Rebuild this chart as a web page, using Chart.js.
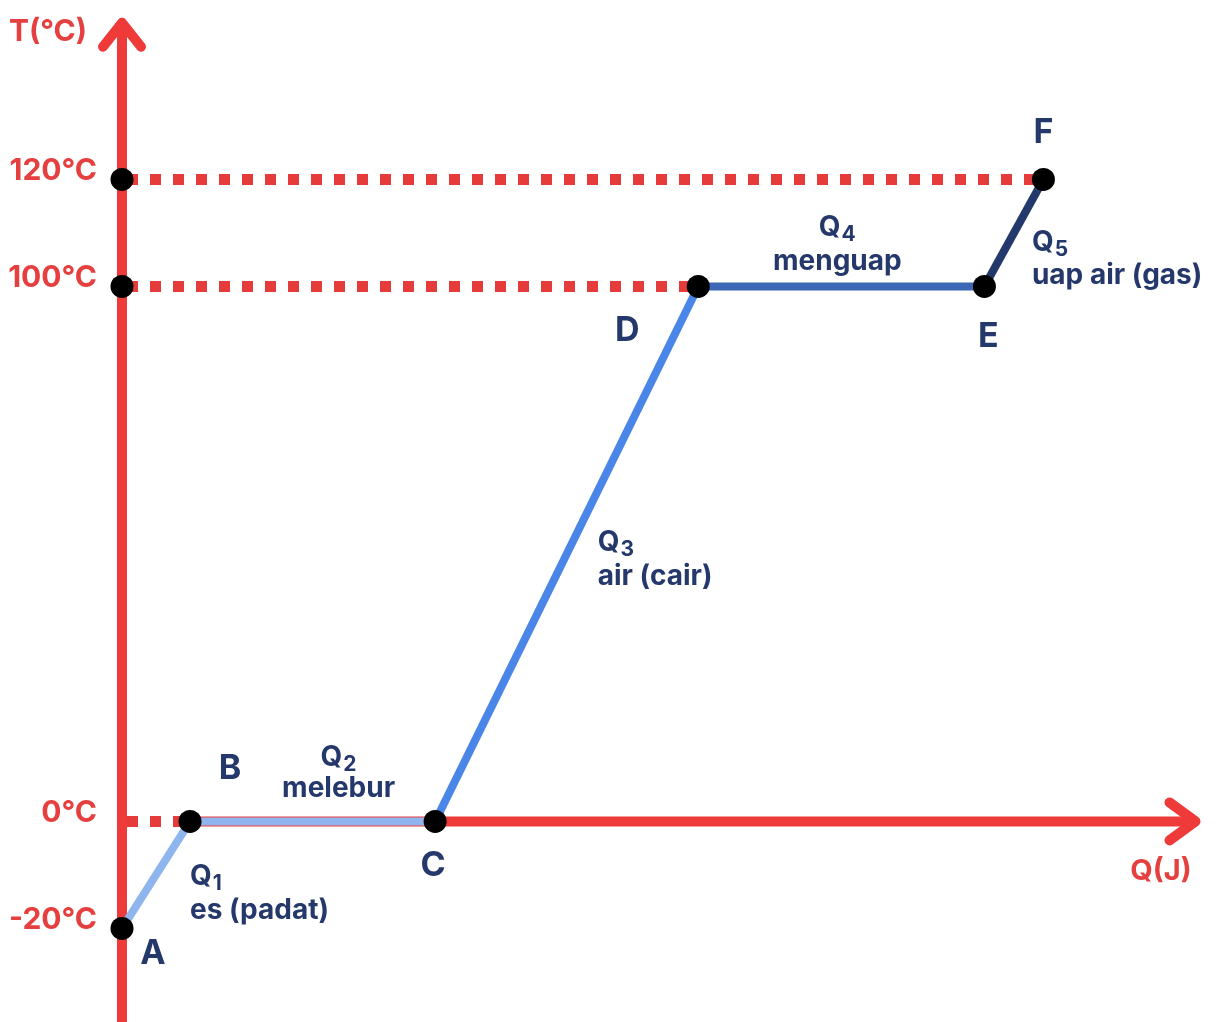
<!DOCTYPE html>
<html><head><meta charset="utf-8">
<script src="https://cdn.jsdelivr.net/npm/chart.js@4/dist/chart.umd.min.js"></script>
<style>html,body{margin:0;padding:0;background:#fff;} #wrap{width:1220px;height:1022px;}</style>
</head><body><div id="wrap"><canvas id="c" width="1220" height="1022"></canvas></div>
<script>
// ---- data ----
const pointNames = ['A','B','C','D','E','F'];
const heatQ = [0, 6.8, 31.3, 57.6, 86.2, 92.1];     // Q (J) – no numeric scale shown, relative amounts
const tempT = [-20, 0, 0, 100, 100, 120];          // T (°C)
const yTicks = [-20, 0, 100, 120];
const segNames = ['Q1','Q2','Q3','Q4','Q5'];
const segLabels = ['es (padat)','melebur','air (cair)','menguap','uap air (gas)'];
const guideTemps = [0, 100, 120];
const guidePointIdx = [1, 3, 5];

// ---- styles ----
const segColors = ['#8fb5ef','#8fb5ef','#4a86e8','#3c66b6','#23396b'];
const RED = '#ef3a3a', DOTRED = '#e53b3b', NAVY = '#25386b', TICKRED = '#e5403f';
const FONT = 'Inter, "Open Sans", sans-serif';
const letterOff = [[31,25],[40,-53],[-2,44],[-71,44],[4,50],[0,-47]];
// [dx, dy line1, dy line2, align]
const segOff = [[34,2,36,'left'],[26,-64,-33,'center'],[31,-11,23,'left'],[-4,-59,-25,'center'],[18,10,43,'left']];

const guideSets = guideTemps.map((t,i)=>({
  data:[{x:0,y:t},{x:heatQ[guidePointIdx[i]],y:t}],
  borderColor: DOTRED, borderWidth: 11, borderDash:[11,12], borderDashOffset: 18,
  borderCapStyle:'butt',
  pointRadius: t===0 ? [0,0] : [11.5,0], pointBackgroundColor:'#000', pointBorderWidth:0,
  showLine:true, clip:false, order: 2
}));

const mainSet = {
  data: heatQ.map((q,i)=>({x:q,y:tempT[i]})),
  borderWidth: 8, showLine:true, clip:false, order:0,
  segment:{ borderColor: ctx => segColors[ctx.p0DataIndex] },
  borderColor: segColors[0],
  pointRadius: 11.5, pointBackgroundColor:'#000', pointBorderWidth:0, pointHoverRadius:11.5
};

function drawQ(ctx, name, x, y, align){
  const main = name[0], sub = name.slice(1);
  ctx.font = 'bold 28px ' + FONT;
  const w1 = ctx.measureText(main).width;
  ctx.font = 'bold 21px ' + FONT;
  const w2 = ctx.measureText(sub).width;
  let x0 = align==='center' ? x - (w1+w2+1)/2 : x;
  ctx.textAlign='left'; ctx.textBaseline='middle';
  ctx.font = 'bold 28px ' + FONT; ctx.fillText(main, x0, y);
  ctx.font = 'bold 21px ' + FONT; ctx.fillText(sub, x0+w1+1, y+7);
}

const axesPlugin = {
  id:'axesPlugin',
  beforeDatasetsDraw(chart){
    const {ctx, scales:{x,y}} = chart;
    const x0 = x.getPixelForValue(0), y0 = y.getPixelForValue(0);
    const yTop = y.getPixelForValue(149.3);
    const xTip = x.getPixelForValue(107.3);
    ctx.save();
    ctx.strokeStyle = RED; ctx.lineWidth = 10; ctx.lineCap='round'; ctx.lineJoin='round';
    // y axis
    ctx.beginPath(); ctx.moveTo(x0, chart.height+10); ctx.lineTo(x0, yTop+3); ctx.stroke();
    ctx.beginPath(); ctx.moveTo(x0-19, yTop+24); ctx.lineTo(x0, yTop); ctx.lineTo(x0+19, yTop+24); ctx.stroke();
    // x axis
    ctx.beginPath(); ctx.lineCap='butt'; ctx.moveTo(x.getPixelForValue(heatQ[1]), y0); ctx.lineTo(xTip-3, y0); ctx.stroke();
    ctx.lineCap='round';
    ctx.beginPath(); ctx.moveTo(xTip-26, y0-19); ctx.lineTo(xTip, y0); ctx.lineTo(xTip-26, y0+19); ctx.stroke();
    // axis titles
    ctx.fillStyle = TICKRED; ctx.font = 'bold 30px ' + FONT; ctx.textBaseline='middle';
    ctx.textAlign='left'; ctx.fillText('T(°C)', 9, 32);
    ctx.font = 'bold 29px ' + FONT;
    ctx.textAlign='center'; ctx.fillText('Q(J)', 1161, y0+50);
    ctx.restore();
  },
  afterDatasetsDraw(chart){
    const {ctx, scales:{x,y}} = chart;
    ctx.save();
    ctx.fillStyle = NAVY;
    // point letters
    ctx.font = 'bold 34px ' + FONT; ctx.textAlign='center'; ctx.textBaseline='middle';
    pointNames.forEach((n,i)=>{
      const px = x.getPixelForValue(heatQ[i]), py = y.getPixelForValue(tempT[i]);
      ctx.fillText(n, px+letterOff[i][0], py+letterOff[i][1]);
    });
    // segment labels
    segNames.forEach((n,i)=>{
      const mx = (x.getPixelForValue(heatQ[i])+x.getPixelForValue(heatQ[i+1]))/2;
      const my = (y.getPixelForValue(tempT[i])+y.getPixelForValue(tempT[i+1]))/2;
      const o = segOff[i];
      drawQ(ctx, n, mx+o[0], my+o[1], o[3]);
      ctx.font = 'bold 28px ' + FONT; ctx.textAlign=o[3]; ctx.textBaseline='middle';
      ctx.fillText(segLabels[i], mx+o[0], my+o[2]);
    });
    ctx.restore();
  }
};

new Chart(document.getElementById('c'), {
  type:'scatter',
  data:{ datasets:[mainSet, ...guideSets] },
  options:{
    responsive:false, animation:false, events:[],
    layout:{padding:0},
    plugins:{legend:{display:false}, tooltip:{enabled:false}},
    scales:{
      x:{type:'linear', min:0, max:108.6, display:false},
      y:{type:'linear', min:-35.35, max:151.4,
         afterBuildTicks: s => { s.ticks = yTicks.map(v=>({value:v})); },
         afterFit: s => { s.width = 122; s.paddingTop = 0; s.paddingBottom = 0; },
         grid:{display:false}, border:{display:false},
         ticks:{color:TICKRED, padding:17, labelOffset:-8,
                font:{family:FONT, size:30, weight:'bold'},
                callback: v => v + '°C'}}
    }
  },
  plugins:[axesPlugin]
});
</script></body></html>
